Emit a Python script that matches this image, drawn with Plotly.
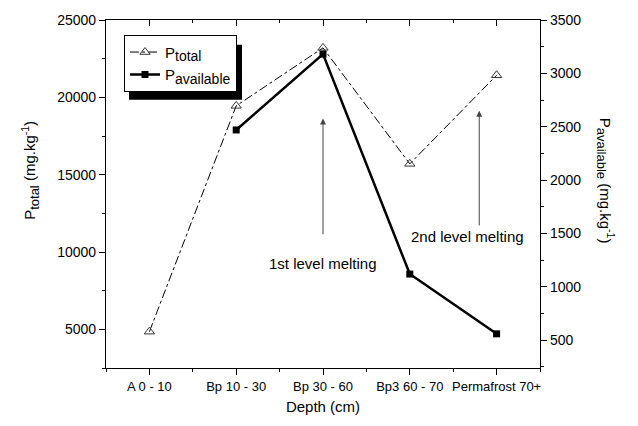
import plotly.graph_objects as go

# ---- data ----
depths = ["A 0 - 10", "Bp 10 - 30", "Bp 30 - 60", "Bp3 60 - 70", "Permafrost 70+"]
p_total = [4850, 19450, 23200, 15700, 21430]
p_available = [None, 2470, 3180, 1120, 560]
x_idx = list(range(len(depths)))
left_ticks = [5000, 10000, 15000, 20000, 25000]

FONT = "Liberation Sans, Arial, sans-serif"
W, H = 638, 426
L, R, T, B = 106, 98, 15, 58
PW, PH = W - L - R, H - T - B

def px_x(p):
    return (p - L) / PW

def px_y(p):
    return (H - B - p) / PH

SUB = "<sub><span style='font-size:14px'>{}</span></sub>"
SUBT = "<sub><span style='font-size:13px'>{}</span></sub>"

fig = go.Figure()
fig.add_trace(go.Scatter(
    x=x_idx, y=p_total, name="P" + SUB.format("total"), mode="lines+markers",
    line=dict(color="black", width=1, dash="dashdot"),
    marker=dict(symbol="triangle-up-open", size=9, color="#333", line=dict(width=1)),
))
fig.add_trace(go.Scatter(
    x=x_idx, y=p_available, name="P" + SUB.format("available"), mode="lines+markers",
    yaxis="y2",
    line=dict(color="black", width=2.5),
    marker=dict(symbol="square", size=7, color="black"),
))
# dummy trace so the top mirror axis is drawn
fig.add_trace(go.Scatter(x=[None], y=[None], xaxis="x2", yaxis="y",
                         showlegend=False, hoverinfo="skip"))

half_ticks = [i - 0.5 for i in range(len(depths) + 1)]

axis_common = dict(showgrid=False, zeroline=False, showline=True,
                   linecolor="black", linewidth=1.2, tickcolor="black")

fig.update_layout(
    width=W, height=H,
    margin=dict(l=L, r=R, t=T, b=B, pad=0),
    paper_bgcolor="white", plot_bgcolor="white",
    font=dict(family=FONT, color="black"),
    showlegend=True,
    legend=dict(x=px_x(124), y=px_y(30), xanchor="left", yanchor="top",
                bgcolor="white", bordercolor="black", borderwidth=1,
                font=dict(family=FONT, size=15, color="black"),
                itemwidth=30, tracegroupgap=0),
    xaxis=dict(range=[-0.5, 4.5], tickmode="array", tickvals=x_idx, ticktext=depths,
               ticks="outside", ticklen=6,
               tickfont=dict(family=FONT, size=13, color="black"),
               minor=dict(tickmode="array", tickvals=half_ticks, ticks="outside", ticklen=3,
                          tickcolor="black"),
               title=dict(text="Depth (cm)", font=dict(family=FONT, size=15), standoff=8),
               **axis_common),
    xaxis2=dict(range=[-0.5, 4.5], overlaying="x", side="top", anchor="y",
                tickmode="array", tickvals=x_idx, showticklabels=False,
                ticks="inside", ticklen=6,
                minor=dict(tickmode="array", tickvals=half_ticks, ticks="inside", ticklen=3,
                           tickcolor="black"),
                **axis_common),
    yaxis=dict(range=[2500, 25000], tickmode="array",
               tickvals=left_ticks, ticktext=[str(v) for v in left_ticks],
               ticks="outside", ticklen=6,
               tickfont=dict(family=FONT, size=14, color="black"),
               minor=dict(tickmode="linear", tick0=0, dtick=2500, ticks="outside", ticklen=3,
                          tickcolor="black"),
               **axis_common),
    yaxis2=dict(range=[240, 3500], overlaying="y", side="right", anchor="x",
                tickmode="linear", tick0=500, dtick=500, tickformat="d",
                ticks="outside", ticklen=6,
                tickfont=dict(family=FONT, size=14, color="black"),
                minor=dict(tickmode="linear", tick0=0, dtick=250, ticks="outside", ticklen=3,
                           tickcolor="black"),
                **axis_common),
    shapes=[dict(type="rect", xref="paper", yref="paper",
                 x0=px_x(129), x1=px_x(242), y0=px_y(96), y1=px_y(40),
                 fillcolor="black", line=dict(width=0), layer="above")],
    annotations=[
        dict(x=2, y=18630, ax=2, ay=11050, xref="x", yref="y", axref="x", ayref="y",
             text="", showarrow=True, arrowhead=2, arrowsize=1.2, arrowwidth=1,
             arrowcolor="#444"),
        dict(x=3.8, y=19140, ax=3.8, ay=11620, xref="x", yref="y", axref="x", ayref="y",
             text="", showarrow=True, arrowhead=2, arrowsize=1.2, arrowwidth=1,
             arrowcolor="#444"),
        dict(x=2, y=9268, xref="x", yref="y", text="1st level melting", showarrow=False,
             font=dict(family=FONT, size=15, color="black")),
        dict(x=3.667, y=10987, xref="x", yref="y", text="2nd level melting", showarrow=False,
             font=dict(family=FONT, size=15, color="black")),
        dict(x=px_x(30), y=px_y(168), xref="paper", yref="paper",
             xanchor="center", yanchor="middle",
             text="P" + SUBT.format("total") + " (mg.kg<sup>-1</sup>)", textangle=-90,
             showarrow=False, font=dict(family=FONT, size=15, color="black")),
        dict(x=px_x(606), y=px_y(178), xref="paper", yref="paper",
             xanchor="center", yanchor="middle",
             text="P" + SUBT.format("available") + " (mg.kg<sup>-1</sup>)", textangle=90,
             showarrow=False, font=dict(family=FONT, size=15, color="black")),
    ],
)

fig.write_html("out.html")
